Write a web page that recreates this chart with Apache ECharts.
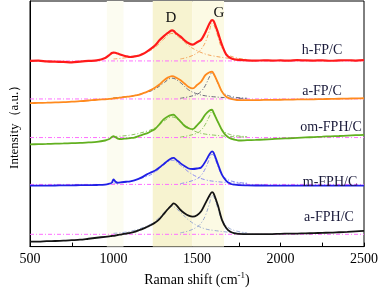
<!DOCTYPE html>
<html><head><meta charset="utf-8">
<script src="https://cdn.jsdelivr.net/npm/echarts@6/dist/echarts.min.js"></script>
<style>html,body{margin:0;padding:0;background:#fff}#c{width:381px;height:292px}</style>
</head><body><div id="c"></div>
<script>
// Raman shift grid (cm-1)
const ramanShift = [500,550,600,650,700,750,800,850,900,950,975,990,1000,1010,1025,1050,1075,1100,1125,1150,1175,1200,1225,1250,1275,1300,1325,1350,1360,1375,1400,1425,1450,1475,1500,1525,1550,1575,1590,1600,1625,1650,1675,1700,1725,1750,1800,1850,1900,1950,2000,2050,2100,2150,2200,2250,2300,2350,2400,2450,2500];

// Offset spectra (a.u.)
const hFPC = [189,189.3,188.5,188.2,188,187.5,188.3,189,189.5,192,195,197,197.5,197.3,196.5,195,193.8,193,193.5,194.3,196,198.5,201.5,205,210,214,217.5,220,219.5,217,214,210,207,205.5,208,210.5,218,227,230.5,229.5,218,205,195.5,192,190.5,190,189.5,189.3,189.6,189.4,189.5,189.3,189.8,189.5,189.4,189.6,189.2,189.5,189.7,189.4,189.8];
const aFPC = [146,146.3,146.5,146.8,147,147.5,148,148.7,149.5,150,150.3,150.5,151,151,151.3,152,152.5,153,153.7,154.5,156,157.5,159.5,162,165,169,172,173.5,173.3,172,169.5,166,162.5,161,164.5,168,174.5,177.5,178,176,167,157.5,152.5,150.5,149.5,149,149,149.1,149.3,149.4,149.5,149.6,149.8,149.9,150,150.2,150.3,150.5,150.7,150.8,151];
const omFPHC = [104,104.3,104.5,104.8,105,105.3,105.5,106,106.5,108,109.5,111.5,112.5,111.5,110,109.5,110,110.5,111,112.5,114,115.3,117.5,120,124.5,129.5,132.5,134,134.2,132,127.5,123,120.5,119.5,123.5,128,134.5,138.5,139.3,136,127,118.5,113,110,109,108,108.3,108.6,109,109.5,110,110.3,110.7,111.1,111.5,111.9,112.3,112.6,113,113.4,113.7];
const mFPHC = [62,62,62,62.2,62.3,62.4,62.5,62.6,62.7,63,64,65,68.5,66.5,65,65.5,66,66.5,67.5,69,71,73.5,75.5,77.5,80.5,84,87.5,90,90.3,88.5,85,82,79.5,79,79.5,80.5,86.5,94,97,95.5,84,73,67,64,63,62.5,62.3,62.2,62.2,62.1,62.1,62,62,62,62,62,62,62,62,62,62];
const aFPHC = [5,5,5.5,5.7,6,6.5,7,8,9,10,10.5,10.8,11,11.3,11.8,12.5,13.3,14,15,16.5,18,20,22,24.5,28,33,38,42.5,44,42.5,37.5,34,31.5,30.5,32,36,44,52,55.5,54,42,27,19,15,13.5,13,12.7,12.7,12.7,12.8,13,13.2,13.3,13.5,13.7,14,14.2,14.6,15,15.5,16];

// Fitted D and G components
const dShift = [1000,1100,1200,1250,1300,1350,1400,1450,1500,1550,1600,1700,1800];
const gShift = [1400,1450,1500,1525,1550,1575,1590,1600,1625,1650,1700,1800];
const hFPC_D = [191,193,198,203,211,217,212,204.5,199.5,196,194,191.5,190.3];
const hFPC_G = [191,193,197,201,208,220,227,226,214,202,194,190.5];
const aFPC_D = [151.5,153,157,160.5,166.5,171.5,167,159.5,155.5,153.5,152.5,151.3,150.8];
const aFPC_G = [151,152.5,155,158,164,173,177,175.5,166.5,158,153,151];
const omFPHC_D = [112,113.5,117.5,121,127.5,132,127.5,121,116.5,114.5,113.5,112,111.5];
const omFPHC_G = [111.5,113,115.5,118.5,124.5,133,137.5,136,127,119,114,112];
const mFPHC_D = [64.5,66.5,71.5,76,83,88,83,76,71,68,66.5,65,64.3];
const mFPHC_G = [64,66,69,72.5,79.5,89.5,94,92.5,82,73,67,64.5];
const aFPHC_D = [13.5,15.5,21,26,34,41,35,27,21.5,18,16.5,14.5,13.5];
const aFPHC_G = [14,16,20,24,31.5,44,52,51,39,27,18,14];

const baselineLevels = [189, 150.3, 111, 63.3, 12.5];
const sampleNames = ['h-FP/C','a-FP/C','om-FPH/C','m-FPH/C','a-FPH/C'];
const bandRanges = [[960,1060],[1235,1472],[1472,1662]];
const bandLetters = ['D','G'];
const xTicks = [500,1000,1500,2000,2500];

const spectra = [hFPC, aFPC, omFPHC, mFPHC, aFPHC];
const dComps = [hFPC_D, aFPC_D, omFPHC_D, mFPHC_D, aFPHC_D];
const gComps = [hFPC_G, aFPC_G, omFPHC_G, mFPHC_G, aFPHC_G];

const traceColors = ['#ff1a1a','#ff8a1e','#62b020','#2020e6','#141414'];
const compColors = ['#f5a55a','#6a6a7a','#8cc45e','#8c8cf0','#9aaad0'];
const bandColors = ['#fcfcf1','#f7f3d0','#fcfae4'];
const FONT = '"Liberation Serif","Times New Roman",serif';

const pair = (xs, ys) => xs.map((x, i) => [x, ys[i]]);

const series = [];
series.push({
  type: 'line', data: [], silent: true, z: 0,
  markArea: {
    silent: true,
    data: bandRanges.map((r, i) => [{ xAxis: r[0], itemStyle: { color: bandColors[i] } }, { xAxis: r[1] }])
  }
});
spectra.forEach((s, i) => {
  series.push({
    type: 'line', data: [[xTicks[0], baselineLevels[i]], [xTicks[xTicks.length-1], baselineLevels[i]]],
    symbol: 'none', silent: true, z: 2,
    lineStyle: { color: '#ff70ff', width: 1, type: [4, 2, 1, 2] }
  });
  series.push({
    type: 'line', data: pair(dShift, dComps[i]), symbol: 'none', smooth: 0.4, silent: true, z: 2,
    lineStyle: { color: compColors[i], width: 1, type: [4, 2, 1, 2] }
  });
  series.push({
    type: 'line', data: pair(gShift, gComps[i]), symbol: 'none', smooth: 0.4, silent: true, z: 2,
    lineStyle: { color: compColors[i], width: 1, type: [4, 2, 1, 2] }
  });
  series.push({
    type: 'line', name: sampleNames[i], data: pair(ramanShift, s), symbol: 'none', smooth: 0.3, z: 3,
    lineStyle: { color: traceColors[i], width: i === 0 ? 2.2 : 1.8 }
  });
});

const labelPos = [[322, 50], [322, 91], [331, 127], [330, 182], [329, 217]];
const graphics = sampleNames.map((n, i) => ({
  type: 'text', x: labelPos[i][0], y: labelPos[i][1], z: 10,
  style: { text: n, font: '14px ' + FONT, fill: '#1a1a3a', align: 'center', verticalAlign: 'middle' }
}));
const letterPos = [[171, 18], [219, 13]];
bandLetters.forEach((t, i) => graphics.push({
  type: 'text', x: letterPos[i][0], y: letterPos[i][1], z: 10,
  style: { text: t, font: '15px ' + FONT, fill: '#111', align: 'center', verticalAlign: 'middle' }
}));

const chart = echarts.init(document.getElementById('c'));
chart.setOption({
  animation: false,
  backgroundColor: '#fff',
  grid: { left: 28, right: 14, top: 1, bottom: 41, show: true, borderColor: '#000', borderWidth: 1, backgroundColor: 'transparent' },
  xAxis: {
    type: 'value', min: 500, max: 2500, interval: 500,
    name: 'Raman shift (cm{sup|-1})', nameLocation: 'middle', nameGap: 24,
    nameTextStyle: { fontFamily: FONT, fontSize: 14, color: '#000', rich: { sup: { fontSize: 9, verticalAlign: 'top', padding: [0,0,8,0], fontFamily: FONT } } },
    axisLine: { lineStyle: { color: '#000', width: 1 } },
    axisTick: { inside: true, length: 4, lineStyle: { color: '#000' } },
    minorTick: { show: true, splitNumber: 2, length: 4, lineStyle: { color: '#000' } },
    axisLabel: { fontFamily: FONT, fontSize: 14, color: '#000', margin: 6, formatter: v => String(v) },
    splitLine: { show: false }
  },
  yAxis: {
    type: 'value', min: 0, max: 250,
    name: 'Intensity（a.u.）', nameLocation: 'middle', nameGap: 9, nameRotate: 90,
    nameTextStyle: { fontFamily: FONT, fontSize: 13, color: '#000' },
    axisLine: { show: true, lineStyle: { color: '#000', width: 1 } },
    axisTick: { show: false }, axisLabel: { show: false }, splitLine: { show: false }
  },
  graphic: graphics,
  series: series
});
</script></body></html>
